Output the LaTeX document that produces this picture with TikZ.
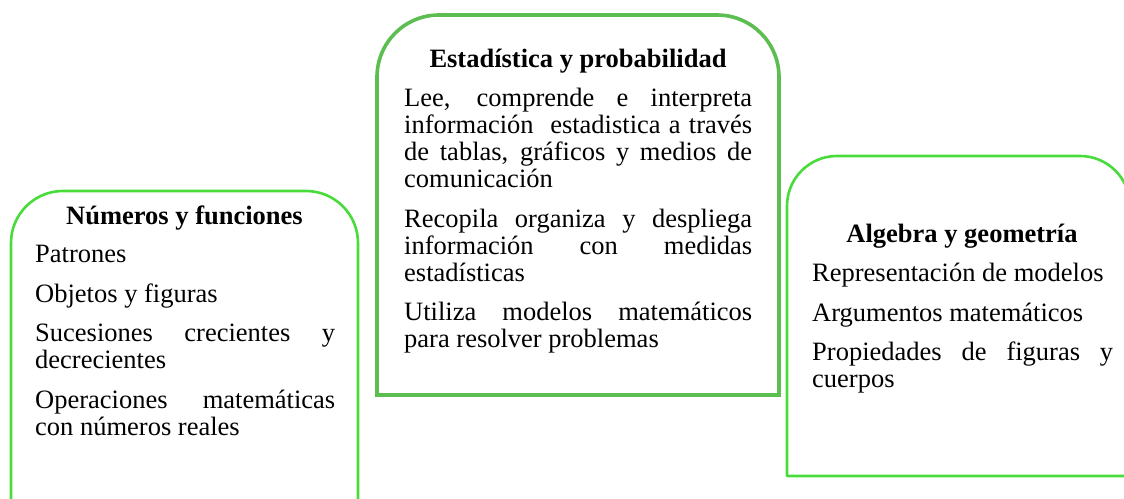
\documentclass[tikz,border=0pt]{standalone}
\usepackage{fontspec}
\setmainfont{Liberation Serif}
\usepackage{tikz}
\usetikzlibrary{positioning}

\definecolor{limegreen}{RGB}{72,220,58}
\definecolor{softgreen}{RGB}{92,190,80}

\begin{document}
\begin{tikzpicture}[
        x=1pt, y=1pt,
        frame/.style={
            draw=limegreen,
            line width=2.6pt,
            line join=round
        },
        midframe/.style={
            frame,
            draw=softgreen,
            line width=3.6pt,
            line join=miter
        },
        heading/.style={
            anchor=base,
            inner sep=0pt,
            font=\fontsize{26.5}{27}\selectfont\bfseries
        },
        itemlist/.style={
            anchor=base west,
            inner sep=0pt,
            align=justify,
            font=\fontsize{26.5}{27}\selectfont,
            execute at begin node={\setlength{\parskip}{12.5pt}\hyphenpenalty=10000}
        }
    ]

    \useasboundingbox (0,0) rectangle (1124,498);
    \clip (0,0) rectangle (1124,498);

    \coordinate (C1) at (11,-12);
    \coordinate (C2) at (377,103);
    \coordinate (C3) at (787,22);

    % frames, rounded on top only
    \draw[frame] (C1) -- (11,255) arc[start angle=180, end angle=90, radius=52]
        -- (306,307) arc[start angle=90, end angle=0, radius=52] -- (358,-12);
    \draw[midframe] (C2) -- (377,421) arc[start angle=180, end angle=90, radius=62]
        -- (717,483) arc[start angle=90, end angle=0, radius=62] -- (779,103) -- cycle;
    \draw[frame] (C3) -- (787,292) arc[start angle=180, end angle=90, radius=50]
        -- (1080,342) arc[start angle=90, end angle=0, radius=50] -- (1130,22) -- cycle;

    \node[heading] (numtitle) at (184.5,273) {Números y funciones};
    \node[itemlist, text width=300pt] (numbody) at (35,235) {%
        Patrones\par
        Objetos y figuras\par
        Sucesiones crecientes y\linebreak decrecientes\par
        Operaciones matemáticas\linebreak con números reales};

    \node[heading] (esttitle) at (578,430) {Estadística y probabilidad};
    \node[itemlist, text width=348pt] (estbody) at (404,391) {%
        Lee, comprende e interpreta\linebreak información\ \ estadistica a través\linebreak
        de tablas, gráficos y medios de\linebreak comunicación\par
        Recopila organiza y despliega\linebreak información con medidas\linebreak estadísticas\par
        Utiliza modelos matemáticos\linebreak para resolver problemas};

    \node[heading] (algtitle) at (962,255) {Algebra y geometría};
    \node[itemlist, text width=301pt] (algbody) at (812,216) {%
        Representación de modelos\par
        Argumentos matemáticos\par
        Propiedades de figuras y\linebreak cuerpos};

\end{tikzpicture}
\end{document}
